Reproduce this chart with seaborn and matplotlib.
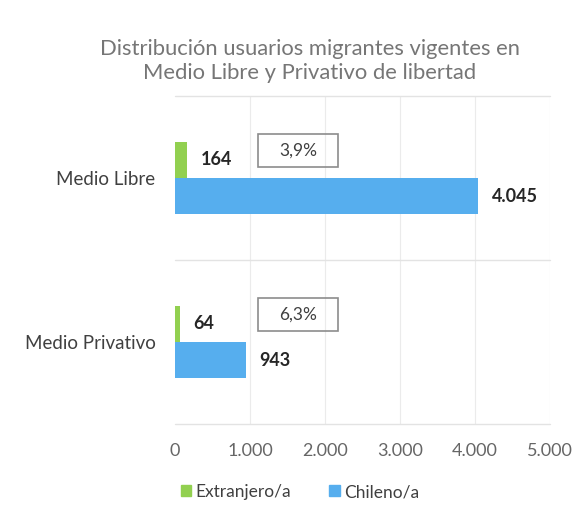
import matplotlib
matplotlib.use("Agg")
import matplotlib.pyplot as plt
import seaborn as sns
import pandas as pd
from matplotlib.patches import Rectangle
from matplotlib.ticker import FuncFormatter

categories = ["Medio Libre", "Medio Privativo"]
series_names = ["Extranjero/a", "Chileno/a"]
extranjero = [164, 64]
chileno = [4045, 943]
percent_labels = ["3,9%", "6,3%"]
x_ticks = [0, 1000, 2000, 3000, 4000, 5000]
title = "Distribución usuarios migrantes vigentes en\nMedio Libre y Privativo de libertad"

colors = {"Extranjero/a": "#92D050", "Chileno/a": "#56AEEE"}

df = pd.DataFrame({
    "cat": categories * 2,
    "serie": [series_names[0]] * len(categories) + [series_names[1]] * len(categories),
    "val": extranjero + chileno,
})

sns.set_theme(style="white")
plt.rcParams["font.family"] = ["Lato", "DejaVu Sans"]

fig = plt.figure(figsize=(5.77, 5.30), dpi=100)
ax = fig.add_axes([175 / 577, 1 - 424 / 530, 375 / 577, 328 / 530])

sns.barplot(data=df, y="cat", x="val", hue="serie", hue_order=series_names,
            order=categories, palette=colors, orient="h", width=0.44,
            ax=ax, legend=False, saturation=1, linewidth=0)

def fmt(v):
    return f"{int(v):,}".replace(",", ".")

for cont in ax.containers:
    ax.bar_label(cont, labels=[fmt(b.get_width()) for b in cont], padding=10,
                 fontsize=13, fontweight="bold", color="#262626")

ax.set_xlim(0, 5000)
ax.set_ylim(1.5, -0.5)
ax.set_xticks(x_ticks)
ax.xaxis.set_major_formatter(FuncFormatter(lambda v, p: fmt(v)))
ax.set_xlabel("")
ax.set_ylabel("")
for s in ax.spines.values():
    s.set_visible(False)
ax.tick_params(axis="both", length=0)
ax.tick_params(axis="x", labelsize=13, labelcolor="#666666", pad=14)
ax.tick_params(axis="y", labelsize=13.5, labelcolor="#404040", pad=14)
for xv in x_ticks[1:]:
    ax.axvline(xv, color="#EBEBEB", lw=0.8, zorder=0)
for yv in [-0.5, 0.5, 1.5]:
    ax.axhline(yv, color="#E3E3E3", lw=1.0, zorder=0, clip_on=False)

for i, lab in enumerate(percent_labels):
    ax.add_patch(Rectangle((1110, i - 0.27), 1060, 0.205, fill=False,
                           edgecolor="#8C8C8C", lw=1.2, zorder=5))
    ax.text(1640, i - 0.168, lab, ha="center", va="center", fontsize=12.5,
            color="#404040", zorder=6)

fig.text(310 / 577, 1 - 61 / 530, title, ha="center", va="center",
         fontsize=15.8, color="#767676", linespacing=1.25)

handles = [Rectangle((0, 0), 1, 1, color=colors[s]) for s in series_names]
fig.legend(handles, series_names, loc="center", bbox_to_anchor=(300 / 577, 1 - 492 / 530),
           ncol=2, frameon=False, fontsize=12.5, handlelength=0.6, handleheight=0.6,
           handletextpad=0.25, columnspacing=2.2, labelcolor="#404040")

fig.savefig("out.png", dpi=100, facecolor="white")
